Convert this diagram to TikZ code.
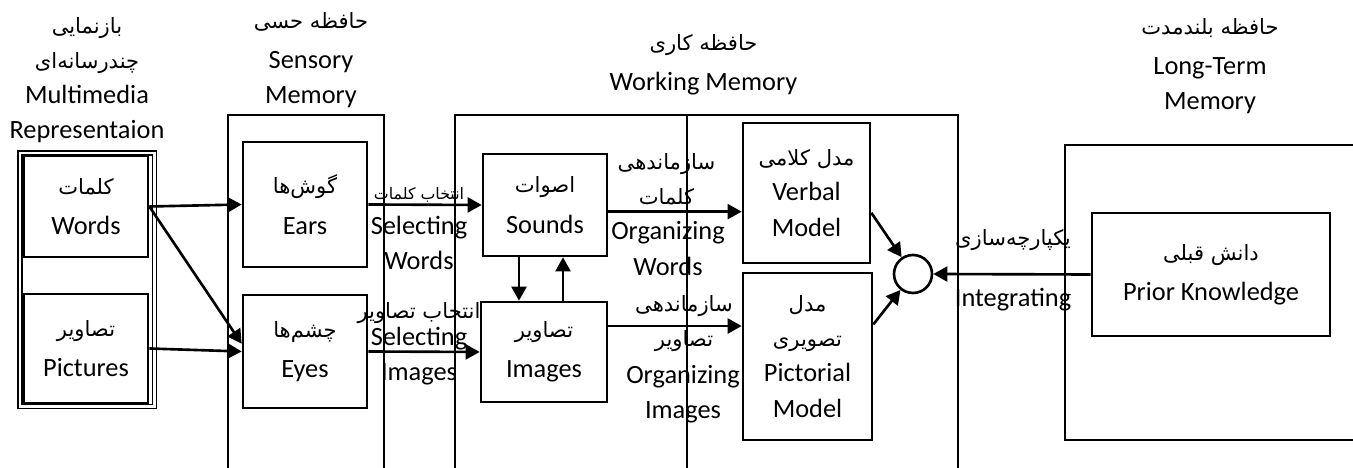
\documentclass[tikz,border=0pt]{standalone}
\usepackage{fontspec}
\setmainfont{Carlito}
\newfontfamily\farsi[Script=Arabic]{DejaVu Sans}
\TeXXeTstate=1
\usetikzlibrary{arrows.meta}

% persian text, right to left
\newcommand{\fa}[1]{{\farsi\fontsize{12}{19}\selectfont\beginR #1\endR}}
\newcommand{\fasmall}[1]{{\farsi\fontsize{9}{12}\selectfont\beginR #1\endR}}

\tikzset{
  box/.style={draw, line width=1.5pt, align=center, inner sep=0pt},
  frame/.style={line width=1.5pt},
  lbl/.style={align=center, inner sep=0pt},
  arr/.style={-{Triangle[length=8pt,width=8.5pt]}, line width=1.5pt},
}

\begin{document}
\begin{tikzpicture}[every node/.style={font=\fontsize{15}{20}\selectfont}]
\useasboundingbox (0,0) rectangle (27.06,9.36);

% stage frames
\draw[double, double distance=1.3pt, line width=0.8pt] (0.40,1.23) rectangle (3.09,6.30);
\draw[frame] (4.56,-0.1) |- (7.68,7.06) -- (7.68,-0.1);
\draw[frame] (9.10,-0.1) |- (19.16,7.06) -- (19.16,-0.1);
\draw[frame] (13.74,-0.1) -- (13.74,7.06);
\draw[frame] (27.1,6.46) -| (21.30,0.56) -- (27.1,0.56);

% titles
\node[lbl] (multititle) at (1.74,7.76) {\fa{بازنمایی}\\\fa{چندرسانه‌ای}\\Multimedia\\Representaion};
\node[lbl] (sensetitle) at (6.22,8.16) {\fa{حافظه حسی}\\[3pt]Sensory\\Memory};
\node[lbl] (worktitle)  at (14.07,8.06) {\fa{حافظه کاری}\\[3pt]Working Memory};
\node[lbl] (longtitle)  at (24.20,8.04) {\fa{حافظه بلندمدت}\\[3pt]Long-Term\\Memory};

% boxes
\node[box, minimum width=2.48cm, minimum height=2.02cm] (words)     at (1.72,5.23)  {\fa{کلمات}\\[3pt]Words};
\node[box, minimum width=2.48cm, minimum height=2.18cm] (pictures)  at (1.72,2.39)  {\fa{تصاویر}\\[3pt]Pictures};
\node[box, minimum width=2.48cm, minimum height=2.50cm] (ears)      at (6.10,5.27)  {\fa{گوش‌ها}\\[3pt]Ears};
\node[box, minimum width=2.48cm, minimum height=2.26cm] (eyes)      at (6.10,2.33)  {\fa{چشم‌ها}\\[3pt]Eyes};
\node[box, minimum width=2.48cm, minimum height=2.04cm] (sounds)    at (10.90,5.26) {\fa{اصوات}\\[3pt]Sounds};
\node[box, minimum width=2.52cm, minimum height=2.00cm] (images)    at (10.88,2.32) {\fa{تصاویر}\\[3pt]Images};
\node[box, minimum width=2.54cm, minimum height=2.80cm] (verbal)    at (16.13,5.50) {\fa{مدل کلامی}\\Verbal\\Model};
\node[box, minimum width=2.58cm, minimum height=3.34cm] (pictorial) at (16.15,2.23) {\fa{مدل}\\\fa{تصویری}\\Pictorial\\Model};
\node[box, circle, minimum size=0.76cm] (circ) at (18.26,3.88) {};
\node[box, minimum width=4.76cm, minimum height=2.46cm] (prior)     at (24.22,3.87) {\fa{دانش قبلی}\\[3pt]Prior Knowledge};

% process labels
\node[lbl] (selwfa) at (8.38,5.46) {\fasmall{انتخاب کلمات}};
\node[lbl] (selwen) at (8.38,4.50) {Selecting\\Words};
\node[lbl] (selifa) at (8.38,3.10) {\fa{انتخاب تصاویر}};
\node[lbl] (selien) at (8.38,2.24) {Selecting\\Images};
\node[lbl] (orgwfa) at (13.33,5.77) {\fa{سازماندهی}\\\fa{کلمات}};
\node[lbl] (orgwen) at (13.36,4.39) {Organizing\\Words};
\node[lbl] (orgifa) at (13.68,2.89) {\fa{سازماندهی}\\\fa{تصاویر}};
\node[lbl] (orgien) at (13.66,1.47) {Organizing\\Images};
\node[lbl] (integfa) at (20.26,4.56) {\fa{یکپارچه‌سازی}};
\node[lbl] (integen) at (20.26,3.36) {Integrating};

% connectors
\draw[arr] (words.east) -- (ears.west);
\draw[arr] (words.east) -- (eyes.173);
\draw[arr] (pictures.east) -- (eyes.west);
\draw[arr] (ears.east) -- (sounds.west);
\draw[arr] (eyes.east) -- (images.west);
\coordinate (dn) at ([xshift=-0.52cm]sounds.south);
\coordinate (up) at ([xshift=0.38cm]images.north);
\draw[arr] (dn) -- (dn |- images.north);
\draw[arr] (up) -- (up |- sounds.south);
\draw[arr] (sounds.-6) -- (sounds.-6 -| verbal.west);
\draw[arr] (images.22) -- (images.22 -| pictorial.west);
\draw[arr] (verbal.-17) -- (circ);
\draw[arr] (pictorial.26) -- (circ);
\draw[arr] (prior.west) -- (circ.east);
\end{tikzpicture}
\end{document}
